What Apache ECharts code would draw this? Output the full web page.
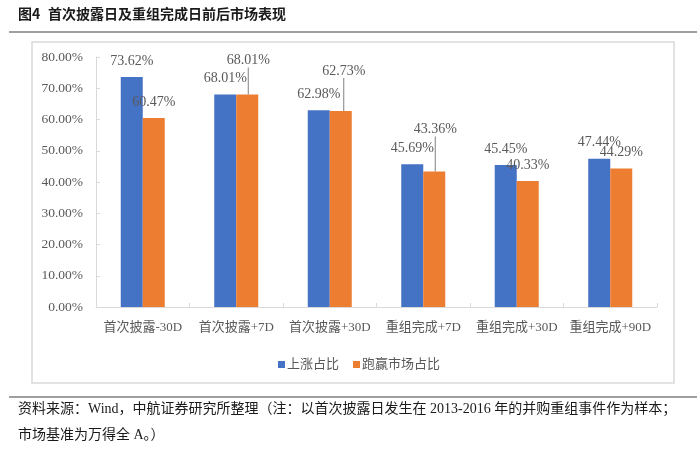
<!DOCTYPE html>
<html>
<head>
<meta charset="utf-8">
<script src="https://cdn.jsdelivr.net/npm/echarts@6/dist/echarts.min.js"></script>
<style>
html,body{margin:0;padding:0;background:#fff;}
#main{width:700px;height:449px;}
</style>
</head>
<body>
<div id="main"></div>
<script>
const categories = ['首次披露-30D', '首次披露+7D', '首次披露+30D', '重组完成+7D', '重组完成+30D', '重组完成+90D'];
const riseShare = [73.62, 68.01, 62.98, 45.69, 45.45, 47.44];
const beatShare = [60.47, 68.01, 62.73, 43.36, 40.33, 44.29];
const seriesNames = ['上涨占比', '跑赢市场占比'];
const yTicks = [0, 10, 20, 30, 40, 50, 60, 70, 80];
// label lift (pixels) for orange labels that use a leader line
const beatLabelShift = [0, -18, -24, -26, 0, 0];
const beatLabelDx = [0, 1, 3, 1, 0, 0];

const serif = '"Liberation Serif", "Times New Roman", "Noto Sans CJK SC", serif';
const chart = echarts.init(document.getElementById('main'), null, {renderer: 'canvas'});

const beatData = beatShare.map((v, i) => ({
  value: v,
  labelLine: {show: !!beatLabelShift[i]}
}));

chart.setOption({
  backgroundColor: '#fff',
  animation: false,
  graphic: [
    {type: 'text', left: 18, top: 7, style: {text: '图4', font: 'bold 14px "Noto Sans CJK SC"', fill: '#1a1a1a'}},
    {type: 'text', left: 48, top: 7, style: {text: '首次披露日及重组完成日前后市场表现', font: 'bold 14px "Noto Sans CJK SC"', fill: '#1a1a1a'}},
    {type: 'line', shape: {x1: 9, y1: 32, x2: 697, y2: 32}, style: {stroke: '#7f7f7f', lineWidth: 1.5}},
    {type: 'rect', shape: {x: 32, y: 42, width: 642, height: 341}, style: {fill: 'none', stroke: '#d9d9d9', lineWidth: 1.5}},
    {type: 'line', shape: {x1: 9, y1: 397, x2: 697, y2: 397}, style: {stroke: '#7f7f7f', lineWidth: 1.5}},
    {type: 'text', left: 18, top: 402, style: {text: '资料来源：Wind，中航证券研究所整理（注：以首次披露日发生在 2013-2016 年的并购重组事件作为样本；', font: '14px ' + serif, fill: '#1a1a1a'}},
    {type: 'text', left: 18, top: 428, style: {text: '市场基准为万得全 A。）', font: '14px ' + serif, fill: '#1a1a1a'}}
  ],
  legend: {
    data: seriesNames,
    left: 273,
    top: 353,
    icon: 'rect',
    itemWidth: 7,
    itemHeight: 7,
    itemGap: 14,
    textStyle: {fontSize: 13, color: '#595959', fontFamily: serif, padding: [0, 0, 0, -3]}
  },
  grid: {left: 96, right: 43, top: 57, bottom: 142, containLabel: false},
  xAxis: {
    type: 'category',
    data: categories,
    axisLine: {lineStyle: {color: '#d9d9d9', width: 1}},
    axisTick: {show: true, inside: true, length: 4, lineStyle: {color: '#d9d9d9'}},
    axisLabel: {interval: 0, fontSize: 13, color: '#595959', fontFamily: serif, margin: 14}
  },
  yAxis: {
    type: 'value',
    min: yTicks[0],
    max: yTicks[yTicks.length - 1],
    interval: 10,
    axisLine: {show: true, lineStyle: {color: '#d9d9d9', width: 1}},
    axisTick: {show: true, inside: true, length: 4, lineStyle: {color: '#d9d9d9'}},
    splitLine: {show: false},
    axisLabel: {fontSize: 13.5, color: '#595959', fontFamily: serif, margin: 13,
      formatter: v => v.toFixed(2) + '%'}
  },
  series: [
    {
      name: seriesNames[0],
      type: 'bar',
      data: riseShare,
      barWidth: 22,
      barGap: '0%',
      itemStyle: {color: '#4472C4'},
      label: {show: true, position: 'top', distance: 9, fontSize: 14, color: '#595959', fontFamily: serif,
        formatter: p => p.value.toFixed(2) + '%'}
    },
    {
      name: seriesNames[1],
      type: 'bar',
      data: beatData,
      barWidth: 22,
      barGap: '0%',
      itemStyle: {color: '#ED7D31'},
      label: {show: true, position: 'top', distance: 9, fontSize: 14, color: '#595959', fontFamily: serif,
        formatter: p => p.value.toFixed(2) + '%'},
      labelLayout: p => beatLabelShift[p.dataIndex] ? {dy: beatLabelShift[p.dataIndex], dx: beatLabelDx[p.dataIndex]} : {},
      labelLine: {show: true, length2: 0, lineStyle: {color: '#808080', width: 1}}
    }
  ]
});
</script>
</body>
</html>
